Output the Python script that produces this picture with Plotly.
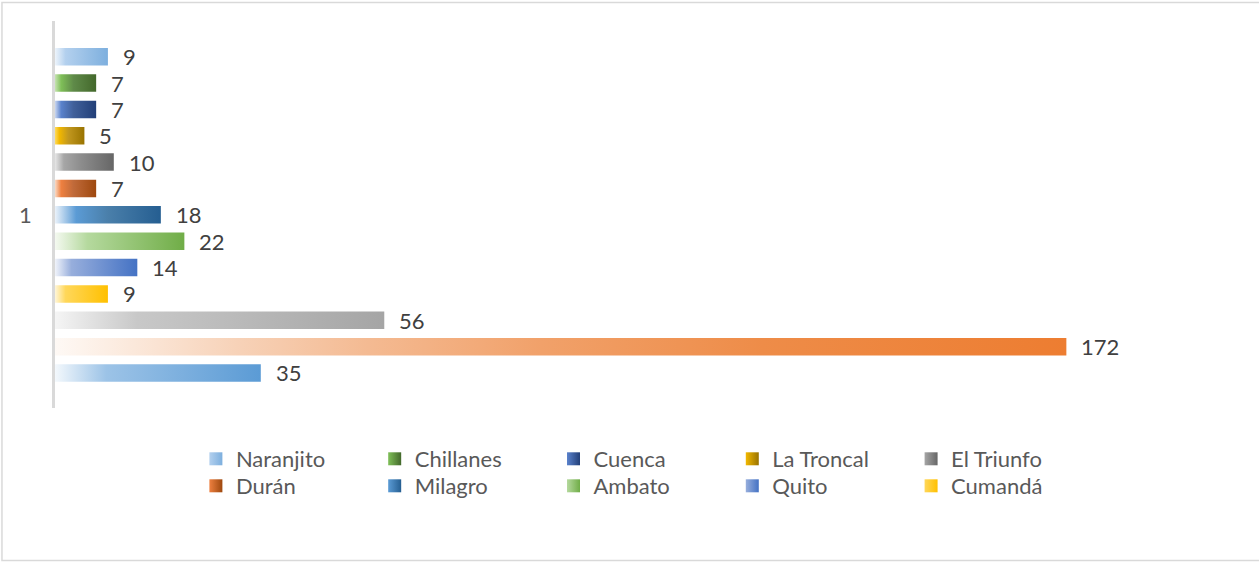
import plotly.graph_objects as go

# Series, listed top to bottom as they appear in the chart
series_names = ["Naranjito", "Chillanes", "Cuenca", "La Troncal", "El Triunfo",
                "Durán", "Milagro", "Ambato", "Quito", "Cumandá", "", "", ""]
series_values = [9, 7, 7, 5, 10, 7, 18, 22, 14, 9, 56, 172, 35]
category_labels = ["1"]

# Horizontal gradient for each series (light at the base, full colour at the tip)
gradients = [
    [[0, "#EDF4FB"], [0.2, "#B3D0EE"], [1, "#7DAFDE"]],
    [[0, "#C6E3B1"], [0.15, "#7FBF58"], [0.45, "#5F8A49"], [1, "#43682B"]],
    [[0, "#C9D6F0"], [0.15, "#5A82CC"], [0.45, "#41609A"], [1, "#223F78"]],
    [[0, "#FFDB5C"], [0.15, "#F2B800"], [0.45, "#C2981F"], [1, "#997300"]],
    [[0, "#E6E6E6"], [0.15, "#A6A6A6"], [0.45, "#8C8C8C"], [1, "#666666"]],
    [[0, "#FBD9C3"], [0.15, "#EE8040"], [0.45, "#C06A3A"], [1, "#9E480E"]],
    [[0, "#EAF2FA"], [0.2, "#5B9BD5"], [0.5, "#4A7FAA"], [1, "#255E91"]],
    [[0, "#F4F9F0"], [0.25, "#B5D99E"], [1, "#70AD47"]],
    [[0, "#F0F3FA"], [0.2, "#97AEDC"], [1, "#4472C4"]],
    [[0, "#FFF6D9"], [0.2, "#FFD75A"], [1, "#FFC000"]],
    [[0, "#F5F5F5"], [0.25, "#C8C8C8"], [1, "#A5A5A5"]],
    [[0, "#FEF9F5"], [0.18, "#F7D2B8"], [0.31, "#F4BA92"], [0.48, "#F1A16A"],
     [0.7, "#EE8C48"], [1, "#ED7D31"]],
    [[0, "#F3F8FC"], [0.25, "#9CC3E7"], [1, "#5B9BD5"]],
]

FONT = "Lato, 'Open Sans', sans-serif"
n = len(series_values)
half = 0.332  # half bar thickness, in slot units

fig = go.Figure()
for k, (name, val, grad) in enumerate(zip(series_names, series_values, gradients)):
    pos = n - 1 - k  # first series on top
    fig.add_trace(go.Scatter(
        x=[0, val, val, 0, 0],
        y=[pos - half, pos - half, pos + half, pos + half, pos - half],
        mode="none",
        fill="toself",
        fillgradient=dict(type="horizontal", colorscale=grad),
        name=name,
        showlegend=False,
        hoverinfo="skip",
    ))
    fig.add_annotation(
        x=val, y=pos, text=str(val), showarrow=False,
        xanchor="left", yanchor="middle", xshift=13,
        font=dict(family=FONT, size=22, color="#404040"),
    )

# Legend entries: square swatches with the same light-to-dark shading,
# five per row, split over two legend boxes
for j, (name, grad) in enumerate(zip(series_names, gradients)):
    if not name:
        continue
    fig.add_trace(go.Scatter(
        x=[None], y=[None], mode="markers", name=name,
        legend="legend" if j < 5 else "legend2",
        marker=dict(symbol="square", size=13, color=grad[1][1],
                    gradient=dict(type="horizontal", color=grad[-1][1]),
                    line=dict(width=0)),
        hoverinfo="skip",
    ))

# Category label on the value axis side
fig.add_annotation(
    xref="paper", yref="y", x=-0.0255, y=(n - 1) / 2,
    text=category_labels[0], showarrow=False,
    xanchor="center", yanchor="middle",
    font=dict(family=FONT, size=22, color="#595959"),
)

# Outer chart frame
fig.add_shape(
    type="rect", xref="paper", yref="paper",
    x0=-0.0451, x1=1.03, y0=-0.3941, y1=1.0478,
    line=dict(color="#D9D9D9", width=1.5), fillcolor="rgba(0,0,0,0)",
    layer="below",
)

legend_style = dict(
    orientation="h", xanchor="left", yanchor="top",
    entrywidth=133.8, entrywidthmode="pixels",
    font=dict(family=FONT, size=22, color="#595959"),
    bgcolor="rgba(0,0,0,0)", tracegroupgap=0,
)

fig.update_layout(
    width=1259, height=562,
    margin=dict(l=55, r=28, t=21, b=154),
    paper_bgcolor="white", plot_bgcolor="white",
    xaxis=dict(range=[0, 200], showgrid=False, zeroline=False, showline=False,
               showticklabels=False, ticks="", fixedrange=True),
    yaxis=dict(range=[-1.328, 13.353], showgrid=False, zeroline=False,
               showline=True, linecolor="#D9D9D9", linewidth=3,
               showticklabels=False, ticks="", fixedrange=True),
    legend=dict(x=0.1198, y=-0.0775, **legend_style),
    legend2=dict(x=0.1198, y=-0.1473, **legend_style),
    showlegend=True,
)

fig.write_html("out.html")
